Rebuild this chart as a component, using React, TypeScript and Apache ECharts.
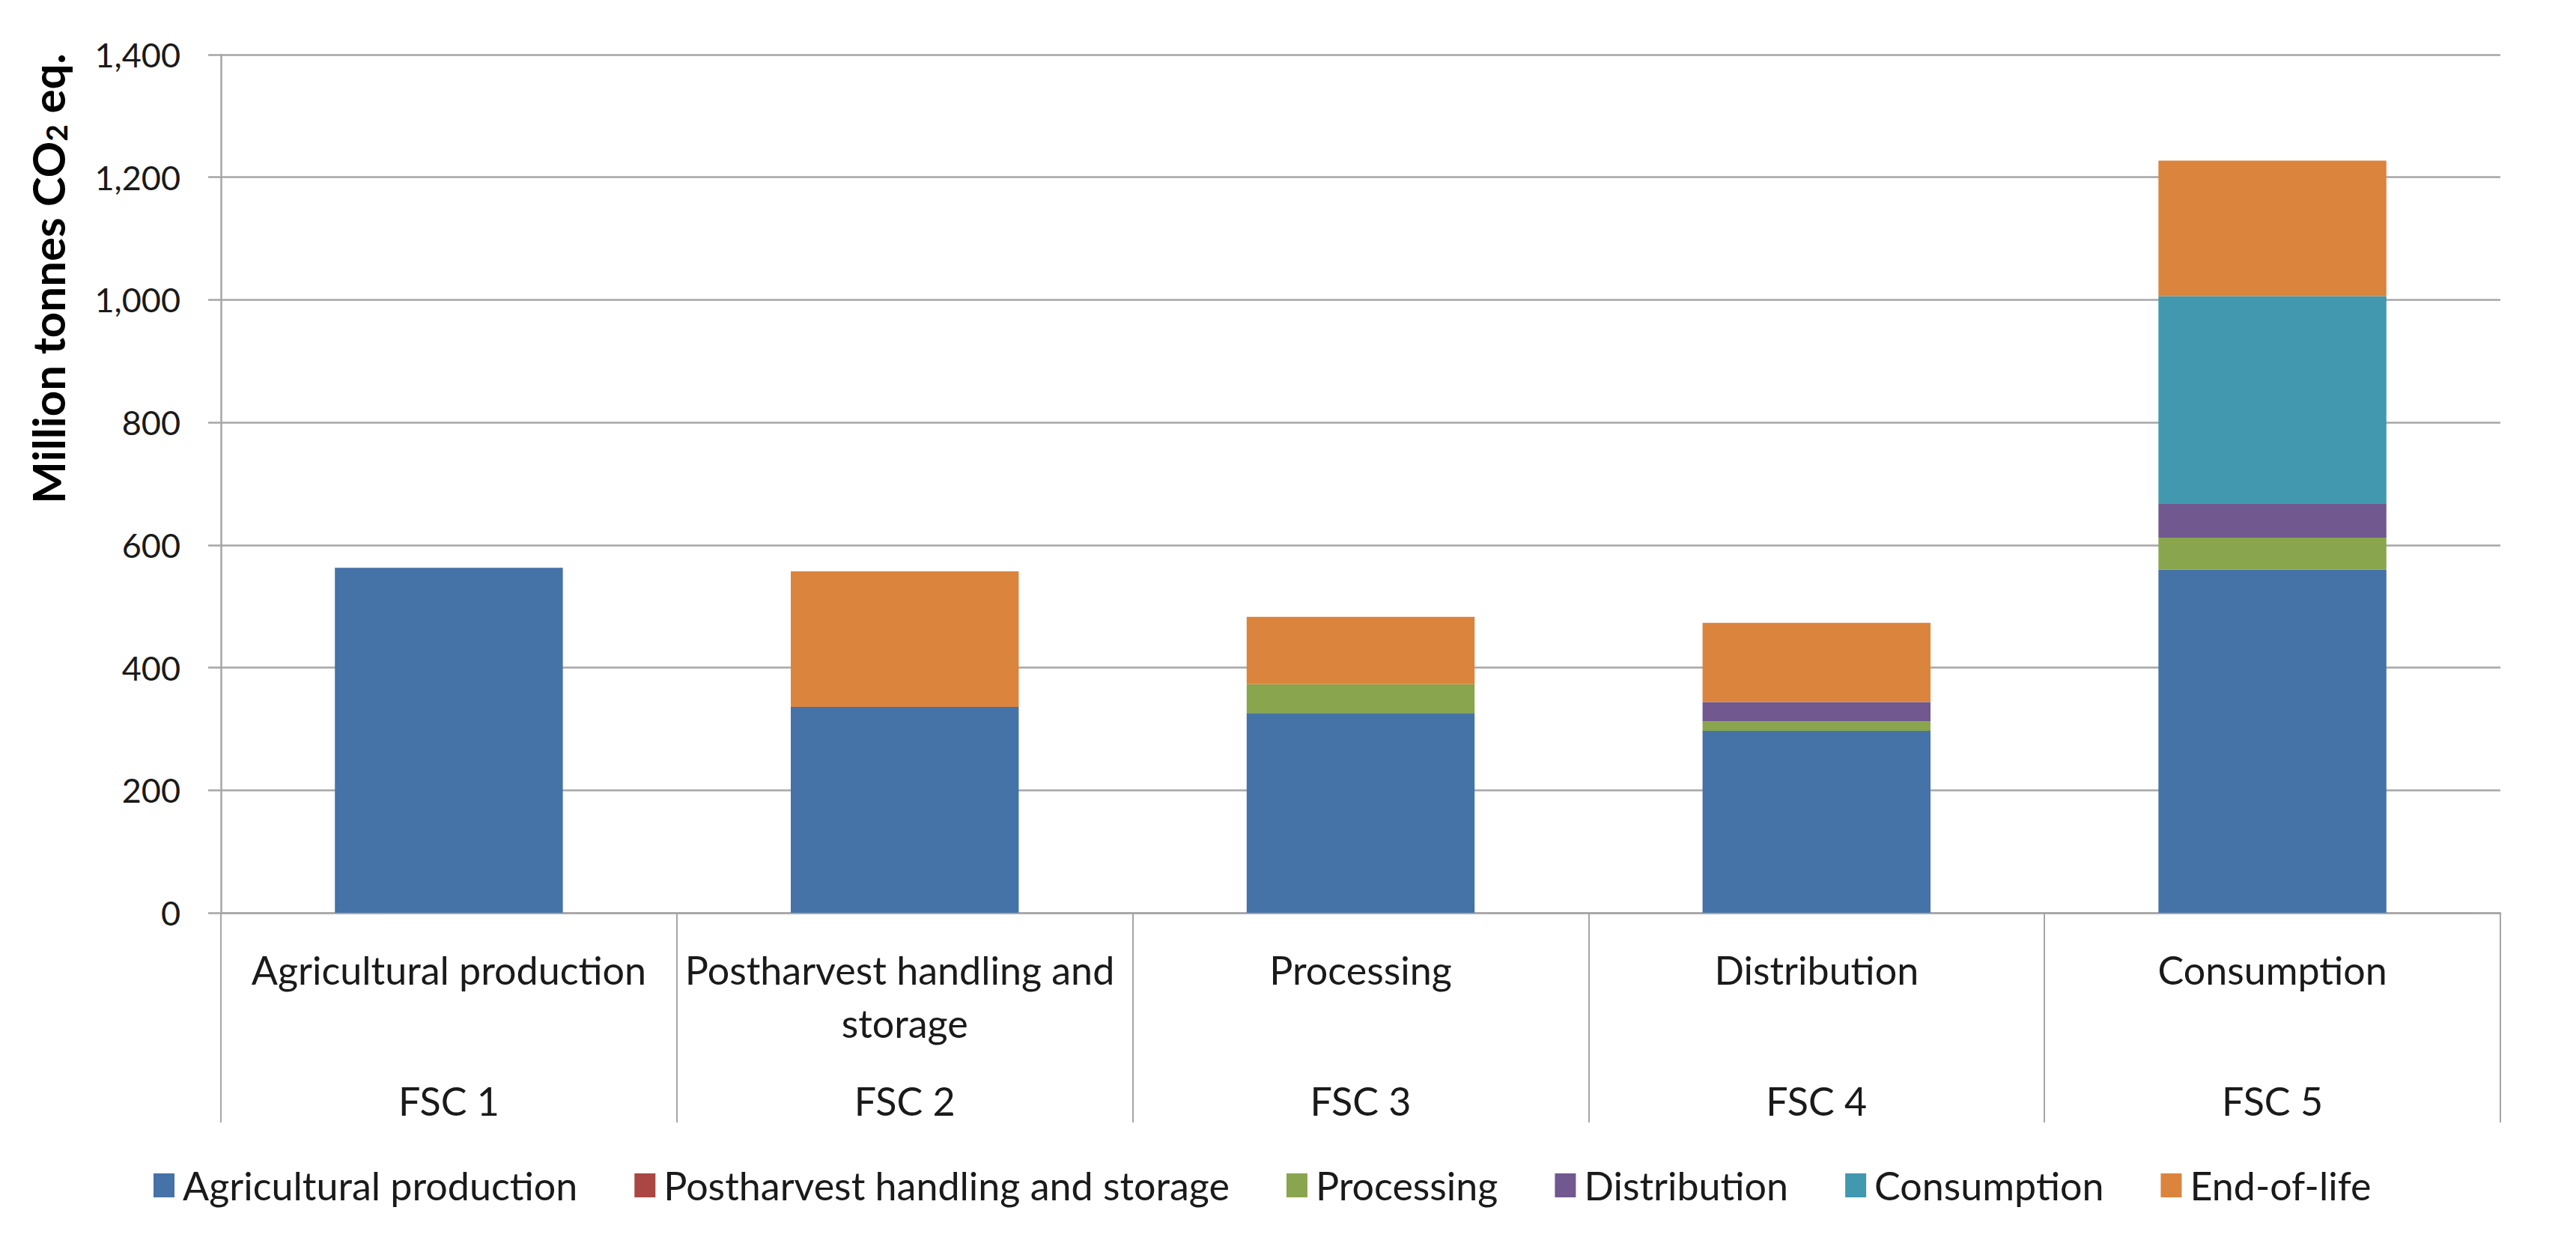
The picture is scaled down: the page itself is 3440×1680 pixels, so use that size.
import React, { useEffect, useRef } from "react";
import * as echarts from "echarts";

const categories = [
  "Agricultural production",
  "Postharvest handling and storage",
  "Processing",
  "Distribution",
  "Consumption",
];
const fscLabels = ["FSC 1", "FSC 2", "FSC 3", "FSC 4", "FSC 5"];
const seriesNames = [
  "Agricultural production",
  "Postharvest handling and storage",
  "Processing",
  "Distribution",
  "Consumption",
  "End-of-life",
];
const agricultural = [563, 336, 326, 297, 560];
const postharvest = [0, 0, 0, 0, 0];
const processing = [0, 0, 47, 15, 52];
const distribution = [0, 0, 0, 32, 55];
const consumption = [0, 0, 0, 0, 339];
const endOfLife = [0, 221, 110, 129, 221];
const seriesValues = [agricultural, postharvest, processing, distribution, consumption, endOfLife];
const colors = ["#4572A7", "#AA4643", "#89A54E", "#71588F", "#4198AF", "#DB843D"];

const FONT = "Lato, 'Open Sans', sans-serif";
const GRID = "#a6a6a6";
const TEXT = "#1a1a1a";

export default function App() {
  const ref = useRef<HTMLDivElement>(null);
  useEffect(() => {
    const chart = echarts.init(ref.current!, null, { renderer: "svg" });
    chart.setOption({
      animation: false,
      backgroundColor: "#ffffff",
      textStyle: { fontFamily: FONT },
      grid: { left: 295, right: 101, top: 73, bottom: 461, containLabel: false },
      legend: {
        top: 1552,
        left: 200,
        itemWidth: 28,
        itemHeight: 32,
        itemGap: 76,
        icon: "rect",
        textStyle: { fontSize: 52, color: TEXT, fontFamily: FONT, padding: [0, 0, 0, 6] },
        data: seriesNames,
      },
      xAxis: [
        {
          type: "category",
          data: categories,
          boundaryGap: true,
          axisLine: { show: true, lineStyle: { color: GRID, width: 2.5 } },
          axisTick: { show: true, interval: 0, length: 280, lineStyle: { color: GRID, width: 2 } },
          axisLabel: {
            interval: 0,
            margin: 40,
            fontSize: 52,
            lineHeight: 71,
            color: TEXT,
            fontFamily: FONT,
            width: 640,
            overflow: "break",
          },
        },
        {
          type: "category",
          data: fscLabels,
          position: "bottom",
          boundaryGap: true,
          axisLine: { show: false },
          axisTick: { show: false },
          axisLabel: {
            interval: 0,
            margin: 216,
            fontSize: 52,
            lineHeight: 70,
            color: TEXT,
            fontFamily: FONT,
          },
        },
      ],
      yAxis: {
        type: "value",
        min: 0,
        max: 1400,
        interval: 200,
        axisLine: { show: true, lineStyle: { color: GRID, width: 2.5 } },
        axisTick: { show: true, length: 17, lineStyle: { color: GRID, width: 2.5 } },
        splitLine: { show: true, lineStyle: { color: GRID, width: 2.5 } },
        axisLabel: {
          margin: 54,
          fontSize: 45,
          color: TEXT,
          fontFamily: FONT,
          formatter: (v: number) => v.toLocaleString("en-US"),
        },
      },
      graphic: [
        {
          type: "text",
          x: 64,
          y: 372,
          rotation: Math.PI / 2,
          style: {
            text: "{a|Million tonnes CO}{s|2}{a| eq.}",
            align: "center",
            verticalAlign: "middle",
            fill: "#000",
            rich: {
              a: { fontSize: 60, fontWeight: "bold", fontFamily: FONT, fill: "#000", lineHeight: 70 },
              s: { fontSize: 39, fontWeight: "bold", fontFamily: FONT, fill: "#000", padding: [22, 0, 0, 0], lineHeight: 70 },
            },
          },
        },
      ],
      series: seriesNames.map((name, i) => ({
        name,
        type: "bar",
        stack: "total",
        xAxisIndex: 0,
        barWidth: "50%",
        itemStyle: { color: colors[i] },
        data: seriesValues[i],
      })),
    });
    return () => chart.dispose();
  }, []);
  return (
    <div
      ref={ref}
      style={{ position: "absolute", left: 0, top: 0, width: 3440, height: 1680, background: "#fff" }}
    />
  );
}
